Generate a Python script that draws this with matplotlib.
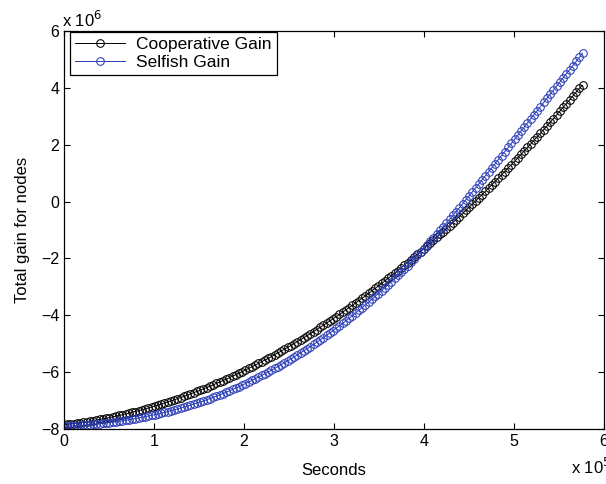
import numpy as np
import matplotlib
matplotlib.use("Agg")
import matplotlib.pyplot as plt

plt.rcParams['font.family'] = ['Liberation Sans', 'DejaVu Sans']

# hourly samples, axis shown in units of 10^5 s
hours = np.arange(161)
seconds = hours * 3600 / 1e5

# total gain, x 10^6
cooperative_gain = [
    -7.850, -7.837, -7.823, -7.809, -7.793, -7.777, -7.760, -7.743, -7.724, -7.705,
    -7.685, -7.664, -7.643, -7.620, -7.597, -7.574, -7.549, -7.523, -7.497, -7.470,
    -7.442, -7.414, -7.385, -7.355, -7.324, -7.292, -7.260, -7.226, -7.192, -7.158,
    -7.122, -7.086, -7.049, -7.011, -6.972, -6.933, -6.893, -6.852, -6.810, -6.767,
    -6.724, -6.680, -6.635, -6.589, -6.543, -6.496, -6.448, -6.399, -6.349, -6.299,
    -6.248, -6.196, -6.143, -6.090, -6.036, -5.981, -5.925, -5.869, -5.811, -5.753,
    -5.694, -5.635, -5.574, -5.513, -5.451, -5.388, -5.325, -5.260, -5.195, -5.130,
    -5.063, -4.995, -4.927, -4.858, -4.789, -4.718, -4.647, -4.575, -4.502, -4.428,
    -4.354, -4.278, -4.203, -4.126, -4.048, -3.970, -3.891, -3.811, -3.730, -3.649,
    -3.567, -3.484, -3.400, -3.315, -3.230, -3.144, -3.057, -2.970, -2.881, -2.792,
    -2.702, -2.611, -2.520, -2.427, -2.334, -2.240, -2.146, -2.050, -1.954, -1.857,
    -1.760, -1.661, -1.562, -1.462, -1.361, -1.259, -1.157, -1.054, -0.950, -0.845,
    -0.739, -0.633, -0.526, -0.418, -0.309, -0.200, -0.090, 0.021, 0.133, 0.245,
    0.359, 0.473, 0.588, 0.703, 0.820, 0.937, 1.055, 1.174, 1.293, 1.413,
    1.534, 1.656, 1.779, 1.902, 2.027, 2.152, 2.277, 2.404, 2.531, 2.659,
    2.788, 2.918, 3.048, 3.179, 3.311, 3.444, 3.577, 3.712, 3.847, 3.983,
    4.090,
]

selfish_gain = [
    -7.900, -7.896, -7.891, -7.886, -7.879, -7.872, -7.864, -7.856, -7.846, -7.836,
    -7.825, -7.813, -7.801, -7.787, -7.773, -7.759, -7.743, -7.726, -7.709, -7.691,
    -7.672, -7.653, -7.633, -7.612, -7.590, -7.567, -7.544, -7.519, -7.494, -7.469,
    -7.442, -7.414, -7.386, -7.356, -7.326, -7.294, -7.262, -7.229, -7.195, -7.160,
    -7.124, -7.087, -7.050, -7.011, -6.971, -6.930, -6.888, -6.844, -6.800, -6.754,
    -6.707, -6.659, -6.610, -6.559, -6.508, -6.455, -6.401, -6.346, -6.290, -6.233,
    -6.175, -6.116, -6.055, -5.994, -5.932, -5.869, -5.804, -5.739, -5.673, -5.605,
    -5.537, -5.467, -5.396, -5.324, -5.251, -5.177, -5.102, -5.025, -4.947, -4.868,
    -4.788, -4.707, -4.624, -4.541, -4.456, -4.370, -4.282, -4.194, -4.104, -4.012,
    -3.920, -3.826, -3.731, -3.634, -3.536, -3.437, -3.337, -3.235, -3.132, -3.028,
    -2.922, -2.814, -2.705, -2.594, -2.481, -2.367, -2.252, -2.135, -2.016, -1.896,
    -1.775, -1.651, -1.527, -1.401, -1.274, -1.146, -1.016, -0.886, -0.754, -0.621,
    -0.487, -0.352, -0.216, -0.078, 0.060, 0.200, 0.341, 0.481, 0.622, 0.764,
    0.905, 1.047, 1.189, 1.331, 1.474, 1.617, 1.760, 1.903, 2.047, 2.191,
    2.335, 2.479, 2.623, 2.767, 2.911, 3.055, 3.199, 3.343, 3.487, 3.631,
    3.775, 3.919, 4.063, 4.207, 4.351, 4.495, 4.639, 4.783, 4.927, 5.071,
    5.215,
]

x_ticks = [0, 1, 2, 3, 4, 5, 6]
y_ticks = [-8, -6, -4, -2, 0, 2, 4, 6]

fig = plt.figure(figsize=(6.06, 4.84), dpi=100)
ax = fig.add_axes([0.1056, 0.1136, 0.8914, 0.8224])

ax.plot(seconds, cooperative_gain, color='black', marker='o', markersize=5.5,
        markerfacecolor='none', markeredgewidth=0.75, linewidth=0.7,
        label='Cooperative Gain')
ax.plot(seconds, selfish_gain, color='#2a3cb8', marker='o', markersize=5.5,
        markerfacecolor='none', markeredgewidth=0.75, linewidth=0.7,
        label='Selfish Gain')

ax.set_xlim(0, 6)
ax.set_ylim(-8, 6)
ax.set_xticks(x_ticks)
ax.set_yticks(y_ticks)
ax.tick_params(direction='in', top=True, right=True, length=4, labelsize=11.5)
for s in ax.spines.values():
    s.set_linewidth(0.9)

ax.set_xlabel('Seconds', fontsize=12, labelpad=10)
ax.set_ylabel('Total gain for nodes', fontsize=12, labelpad=8)

# MATLAB-style exponent labels
fig.text(62 / 606, 1 - 20 / 484, r'x 10$^{6}$', fontsize=12, va='center', ha='left')
fig.text(571 / 606, 1 - 467 / 484, r'x 10$^{5}$', fontsize=12, va='center', ha='left')

leg = ax.legend(loc='upper left', bbox_to_anchor=(0.011, 0.998), borderaxespad=0,
                fontsize=12.5, fancybox=False, edgecolor='black', framealpha=1,
                numpoints=1, handlelength=2.9, borderpad=0.3, labelspacing=0.15,
                handletextpad=0.6)
leg.get_frame().set_linewidth(0.9)

fig.savefig('out.png', dpi=100)
